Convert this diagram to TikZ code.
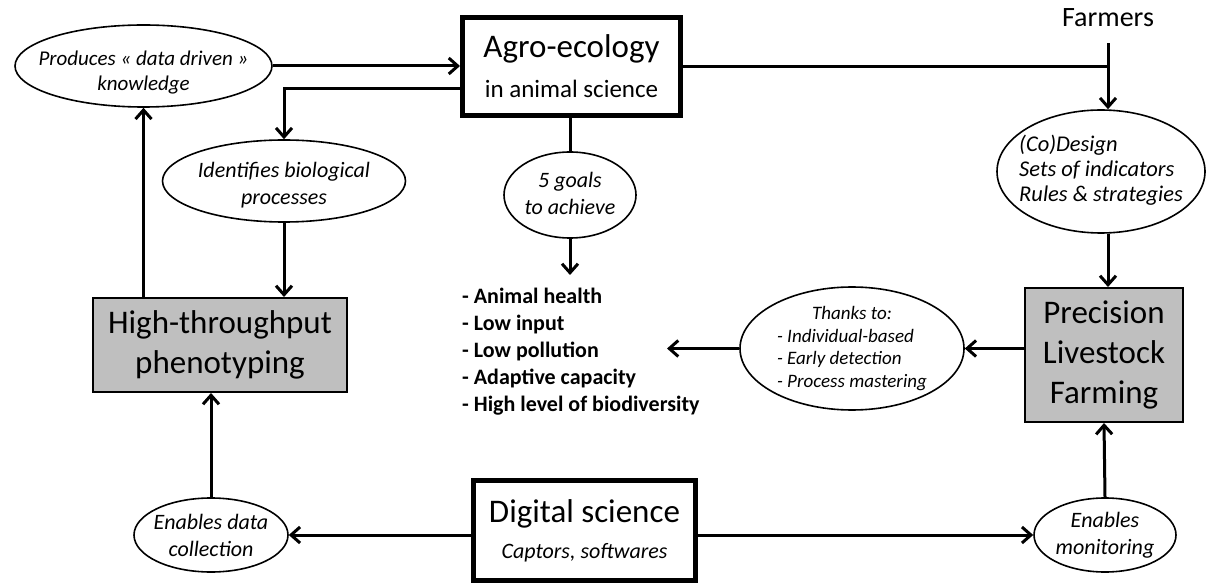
\documentclass[tikz,border=0pt]{standalone}
\usepackage{fontspec}
\setmainfont{Carlito}
\usetikzlibrary{shapes.geometric,arrows.meta}
\definecolor{boxgray}{RGB}{191,191,191}
% text centred in an ellipse, without changing the ellipse size; #2 = downward shift
\newcommand{\ovtext}[3][c]{\smash{\raisebox{\dimexpr-.25em-#2\relax}{\makebox[0pt]{\smash{\begin{tabular}{@{}#1@{}}#3\end{tabular}}}}}}
\begin{document}
\begin{tikzpicture}[x=1pt,y=-1pt,
  arr/.style={line width=3pt,-{Straight Barb[length=9pt,width=16pt]}},
  conn/.style={line width=3pt},
  oval/.style={ellipse,draw,line width=1.6pt,inner sep=0pt,font=\fontsize{22}{27}\selectfont\itshape},
  bigbox/.style={rectangle,draw,line width=5pt,inner sep=0pt,align=center},
  graybox/.style={rectangle,draw,line width=2pt,fill=boxgray,inner sep=0pt,align=center,font=\fontsize{33}{40}\selectfont},
]
\useasboundingbox (0,0) rectangle (1226,585);

\node[oval,minimum width=257pt,minimum height=82pt,font=\fontsize{21}{25}\selectfont\itshape] (produces) at (143.5,66) {\ovtext{7pt}{Produces « data driven »\\knowledge}};
\node[bigbox,minimum width=218pt,minimum height=98pt,font=\fontsize{25}{40}\selectfont] (agro) at (571.5,66.5) {{\fontsize{33}{40}\selectfont Agro-ecology}\\in animal science};
\node[oval,minimum width=243pt,minimum height=82pt] (ident) at (284,181) {\ovtext{4pt}{Identifies biological\\processes}};
\node[oval,minimum width=132pt,minimum height=86pt] (goals5) at (570,195) {\ovtext{0pt}{5 goals\\to achieve}};
\node[align=left,anchor=north west,inner sep=0pt,font=\fontsize{22}{27}\selectfont\bfseries] (goallist) at (462,288) {- Animal health\\- Low input\\- Low pollution\\- Adaptive capacity\\- High level of biodiversity};
\coordinate (gtip) at (570,275);
\node[anchor=base,inner sep=0pt,font=\fontsize{28}{34}\selectfont] (farmers) at (1108,27) {Farmers};
\node[oval,minimum width=208pt,minimum height=123pt,font=\fontsize{22.5}{25}\selectfont\itshape] (codesign) at (1101,171.5) {\ovtext[l]{0pt}{(Co)Design\\Sets of indicators\\Rules \& strategies}};
\node[graybox,minimum width=254pt,minimum height=94pt] (htp) at (220,345) {High-throughput\\phenotyping};
\node[graybox,minimum width=158pt,minimum height=134pt] (precision) at (1104,355) {Precision\\Livestock\\Farming};
\node[oval,minimum width=224pt,minimum height=123pt,font=\fontsize{19}{22.5}\selectfont\itshape] (thanks) at (852,348.5) {\ovtext[l]{0pt}{\multicolumn{1}{@{}c@{}}{Thanks to:}\\- Individual-based\\- Early detection\\- Process mastering}};
\coordinate (ltip) at (667,348.5);
\node[oval,minimum width=154pt,minimum height=74pt] (datacoll) at (211,535) {\ovtext{2pt}{Enables data\\collection}};
\node[bigbox,minimum width=222pt,minimum height=100pt,font=\fontsize{22}{36}\selectfont] (digital) at (584.5,530.5) {{\fontsize{33}{36}\selectfont Digital science}\\{\itshape Captors, softwares}};
\node[oval,minimum width=142pt,minimum height=74pt] (monitor) at (1105,535) {\ovtext{0pt}{Enables\\monitoring}};

% connectors
\draw[arr] (produces.east) -- (produces.east -| agro.west);
\draw[arr] ([yshift=-22pt]agro.west) -| (ident.north);
\draw[conn] (agro.south -| goals5.north) -- (goals5.north);
\draw[arr] (goals5.south) -- (gtip);
\draw[conn] (agro.east) -- (agro.east -| farmers.south);
\draw[arr,shorten <=16pt] (farmers.south) -- (farmers.south |- codesign.north);
\draw[arr] (codesign.south -| farmers.south) -- (precision.north -| farmers.south);
\draw[arr] (precision.west |- thanks.east) -- (thanks.east);
\draw[arr] (thanks.west) -- (ltip);
\draw[arr] (htp.north -| produces.south) -- (produces.south);
\draw[arr] (ident.south) -- (ident.south |- htp.north);
\draw[arr] (datacoll.north) -- (datacoll.north |- htp.south);
\draw[arr] (digital.west |- datacoll.east) -- (datacoll.east);
\draw[arr] (digital.east |- monitor.west) -- (monitor.west);
\draw[arr] (monitor.north) -- (precision.south);
\end{tikzpicture}
\end{document}
